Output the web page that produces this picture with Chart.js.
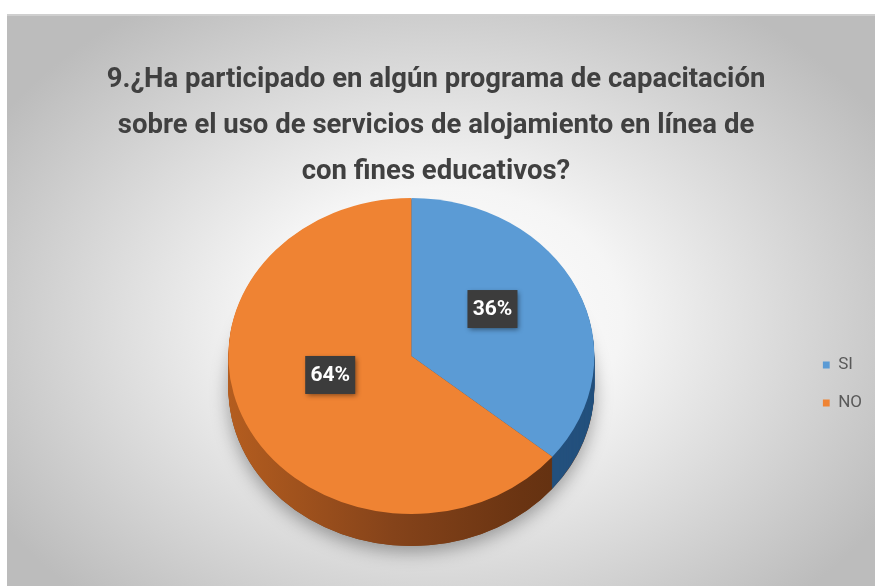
<!DOCTYPE html>
<html>
<head>
<meta charset="utf-8">
<script src="https://cdn.jsdelivr.net/npm/chart.js@4.4.1/dist/chart.umd.min.js"></script>
<style>
  html, body { margin: 0; padding: 0; background: #ffffff; }
  #wrap { width: 875px; height: 586px; position: relative; }
</style>
</head>
<body>
<div id="wrap"><canvas id="myChart" width="875" height="586"></canvas></div>
<script>
const labels = ['SI', 'NO'];
const values = [36, 64];
const colors = ['#5b9bd5', '#ef8333'];
const sideColors = ['#23507d', '#8a4517'];
const titleLines = [
    '9.¿Ha participado en algún programa de capacitación',
    'sobre el uso de servicios de alojamiento en línea de',
    'con fines educativos?'
];

const fontFamily = "Roboto, 'Open Sans', sans-serif";

// tilt of the pie: screen centre and vertical squash
const tilt = { cy: 356, squash: 158 / 183, depth: 32 };

function applyTilt(ctx, chart, extraY) {
    const ca = chart.chartArea;
    const cyc = (ca.top + ca.bottom) / 2;
    ctx.translate(0, tilt.cy + extraY);
    ctx.scale(1, tilt.squash);
    ctx.translate(0, -cyc);
}

const background = {
    id: 'background',
    beforeDraw(chart) {
        const ctx = chart.ctx;
        ctx.save();
        ctx.fillStyle = '#ffffff';
        ctx.fillRect(0, 0, chart.width, chart.height);
        ctx.translate(440, 320);
        ctx.scale(1, 380 / 520);
        const g = ctx.createRadialGradient(0, 0, 0, 0, 0, 520);
        g.addColorStop(0, '#ffffff');
        g.addColorStop(0.35, '#f5f5f5');
        g.addColorStop(1, '#bcbcbc');
        ctx.fillStyle = g;
        ctx.fillRect(7 - 440, (14 - 320) * 520 / 380, 868, 572 * 520 / 380);
        ctx.restore();
        ctx.save();
        ctx.strokeStyle = '#cfcfcf';
        ctx.lineWidth = 2;
        ctx.beginPath();
        ctx.moveTo(7, 15);
        ctx.lineTo(875, 15);
        ctx.stroke();
        ctx.restore();
    }
};

const pie3d = {
    id: 'pie3d',
    beforeDatasetsDraw(chart) {
        const ctx = chart.ctx;
        const arcs = chart.getDatasetMeta(0).data;
        const r = arcs[0].outerRadius;
        const x0 = arcs[0].x;

        // soft shadow below the disc
        ctx.save();
        applyTilt(ctx, chart, tilt.depth);
        ctx.shadowColor = 'rgba(0,0,0,0.35)';
        ctx.shadowBlur = 18;
        ctx.shadowOffsetY = 6;
        ctx.fillStyle = '#7a3d14';
        ctx.beginPath();
        ctx.arc(x0, arcs[0].y, r, 0, Math.PI * 2);
        ctx.fill();
        ctx.restore();

        // side wall
        for (let k = tilt.depth; k >= 1; k--) {
            ctx.save();
            applyTilt(ctx, chart, k);
            arcs.forEach((a, i) => {
                let fill = sideColors[i];
                if (i === 1) {
                    const g = ctx.createLinearGradient(x0 - r, 0, x0 + r, 0);
                    g.addColorStop(0, '#b45d1f');
                    g.addColorStop(0.45, '#85431a');
                    g.addColorStop(0.8, '#6a3412');
                    g.addColorStop(1, '#5e2f10');
                    fill = g;
                }
                ctx.fillStyle = fill;
                ctx.beginPath();
                ctx.moveTo(a.x, a.y);
                ctx.arc(a.x, a.y, a.outerRadius, a.startAngle, a.endAngle);
                ctx.closePath();
                ctx.fill();
            });
            ctx.restore();
        }

        // top face drawn by chart.js inside the tilted space
        ctx.save();
        applyTilt(ctx, chart, 0);
    },
    afterDatasetsDraw(chart) {
        const ctx = chart.ctx;
        ctx.restore();

        const arcs = chart.getDatasetMeta(0).data;
        const total = values.reduce((s, v) => s + v, 0);
        arcs.forEach((a, i) => {
            const mid = (a.startAngle + a.endAngle) / 2;
            const px = a.x + Math.cos(mid) * a.outerRadius * 0.49;
            const py = tilt.cy + Math.sin(mid) * a.outerRadius * 0.49 * tilt.squash - 14;
            const text = Math.round(values[i] / total * 100) + '%';
            ctx.save();
            ctx.shadowColor = 'rgba(0,0,0,0.45)';
            ctx.shadowBlur = 5;
            ctx.shadowOffsetX = 2;
            ctx.shadowOffsetY = 2;
            ctx.fillStyle = '#3c3c3c';
            ctx.fillRect(px - 25, py - 19, 50, 38);
            ctx.restore();
            ctx.save();
            ctx.fillStyle = '#ffffff';
            ctx.font = 'bold 21px ' + fontFamily;
            ctx.textAlign = 'center';
            ctx.textBaseline = 'middle';
            ctx.fillText(text, px, py + 1);
            ctx.restore();
        });
    }
};

const config = {
    type: 'pie',
    data: {
        labels: labels,
        datasets: [{
            data: values,
            backgroundColor: colors,
            borderWidth: 0,
            radius: 183,
            clip: false
        }]
    },
    options: {
        responsive: false,
        animation: false,
        events: [],
        layout: { padding: { left: 0, right: 3, top: 0, bottom: 0 } },
        plugins: {
            title: {
                display: true,
                text: titleLines,
                color: '#404040',
                font: { family: fontFamily, size: 27.5, weight: 'bold', lineHeight: 46 / 27.5 },
                padding: { top: 57, bottom: 8 }
            },
            legend: {
                position: 'right',
                fullSize: false,
                labels: {
                    boxWidth: 7,
                    boxHeight: 7,
                    padding: 0,
                    color: '#595959',
                    font: { family: fontFamily, size: 17, lineHeight: 38 / 17 },
                    generateLabels(chart) {
                        const items = Chart.overrides.pie.plugins.legend.labels.generateLabels(chart);
                        return items.map(it => Object.assign(it, { text: [it.text], lineWidth: 0 }));
                    }
                }
            },
            tooltip: { enabled: false }
        }
    },
    plugins: [background, pie3d]
};

const myChart = new Chart(document.getElementById('myChart'), config);
</script>
</body>
</html>
